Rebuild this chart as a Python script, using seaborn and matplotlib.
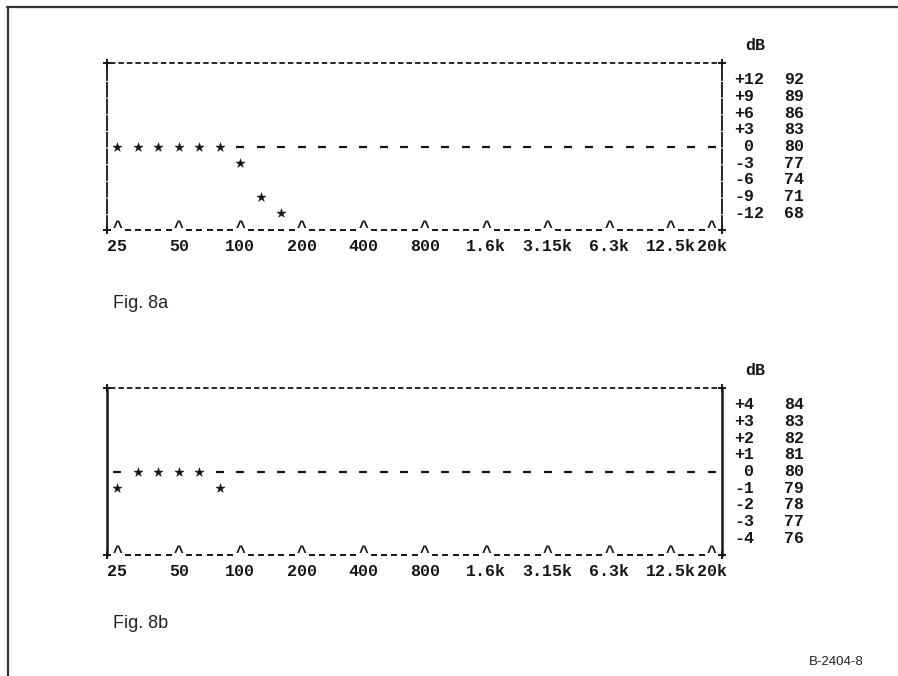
import matplotlib
matplotlib.use("Agg")
import matplotlib.pyplot as plt
from matplotlib.lines import Line2D
import seaborn as sns
import pandas as pd

# One-third-octave band centres, 25 Hz .. 20 kHz
bands = ["25", "31.5", "40", "50", "63", "80", "100", "125", "160", "200",
         "250", "315", "400", "500", "630", "800", "1k", "1.25k", "1.6k", "2k",
         "2.5k", "3.15k", "4k", "5k", "6.3k", "8k", "10k", "12.5k", "16k", "20k"]

# Labelled bands on the frequency axis
freq_labels = ["25", "50", "100", "200", "400", "800", "1.6k", "3.15k",
               "6.3k", "12.5k", "20k"]

# Measured band levels relative to 80 dB (only bands with a plotted point)
fig8a_db = [0, 0, 0, 0, 0, 0, -3, -9, -12]
fig8b_db = [-1, 0, 0, 0, 0, -1]

# Level scales printed at the right of each plot
fig8a_scale_db = [12, 9, 6, 3, 0, -3, -6, -9, -12]
fig8a_scale_spl = [92, 89, 86, 83, 80, 77, 74, 71, 68]
fig8b_scale_db = [4, 3, 2, 1, 0, -1, -2, -3, -4]
fig8b_scale_spl = [84, 83, 82, 81, 80, 79, 78, 77, 76]

sns.set_theme(style="white")
plt.rcParams["lines.scale_dashes"] = False
MONO = {"family": "Liberation Mono", "weight": "bold", "size": 12}
INK = "#161616"

fig = plt.figure(figsize=(8.98, 6.76), dpi=100)
fig.patch.set_facecolor("white")

W, H = 898, 676


def panel_axes(top_px, bottom_px):
    return fig.add_axes([107 / W, (H - bottom_px) / H, 615 / W,
                         (bottom_px - top_px) / H])


def draw_panel(ax, values, step, scale_db, scale_spl, solid_sides):
    n = len(bands)
    ymax = step * 5
    ymin = -ymax
    ax.set_xlim(-0.5, n - 0.5)
    ax.set_ylim(ymin, ymax)
    ax.set_xticks([])
    ax.set_yticks([])
    ax.set_facecolor("white")
    for side in ("top", "bottom"):
        ax.spines[side].set_visible(False)
    for side in ("left", "right"):
        sp = ax.spines[side]
        sp.set_visible(True)
        sp.set_color(INK)
        if solid_sides:
            sp.set_linewidth(1.8)
        else:
            sp.set_linewidth(1.3)
            sp.set_linestyle((0, (10, 2)))

    # measured points
    df = pd.DataFrame({"band": range(len(values)), "db": values})
    sns.scatterplot(data=df, x="band", y="db", marker="*", s=48,
                    color=INK, edgecolor=INK, linewidth=0.3, ax=ax,
                    legend=False, clip_on=False, zorder=5)

    # 0 dB reference row, marked wherever no point sits on it
    ref_x = [i for i in range(n) if i >= len(values) or values[i] != 0]
    ref = pd.DataFrame({"band": ref_x, "db": [0] * len(ref_x)})
    sns.scatterplot(data=ref, x="band", y="db", marker="_", s=26,
                    color=INK, linewidth=1.6, ax=ax, legend=False,
                    clip_on=False)

    # top border
    ax.plot([-0.35, n - 0.65], [ymax, ymax], color=INK, lw=1.3,
            linestyle=(0, (3.9, 2.2)), clip_on=False)

    # bottom border: carets at labelled bands, dashes between
    tick_pos = [bands.index(lbl) for lbl in freq_labels]
    dash_x = [k / 2 for k in range(0, 2 * n - 1) if k / 2 not in tick_pos]
    bot = pd.DataFrame({"x": dash_x, "y": [ymin] * len(dash_x)})
    sns.scatterplot(data=bot, x="x", y="y", marker="_", s=20, color=INK,
                    linewidth=1.4, ax=ax, legend=False, clip_on=False)
    for p in tick_pos:
        ax.text(p, ymin + step * 0.15, "^", ha="center", va="center",
                fontdict=MONO, color=INK)

    # corner crosses
    ax.plot([-0.5, n - 0.5, -0.5, n - 0.5], [ymax, ymax, ymin, ymin],
            linestyle="none", marker="+", ms=6, mew=1.4, color=INK,
            clip_on=False)

    # frequency labels
    for p, lbl in zip(tick_pos, freq_labels):
        ax.text(p, ymin - step, lbl, ha="center", va="center",
                fontdict=MONO, color=INK)

    # level scale
    ax.text(31.1, ymax + step * 1.05, "dB", ha="center", va="center",
            fontdict=MONO, color=INK)
    for d, spl in zip(scale_db, scale_spl):
        s = " 0" if d == 0 else f"{d:+d}"
        ax.text(30.08, d, s, ha="left", va="center", fontdict=MONO, color=INK)
        ax.text(32.54, d, str(spl), ha="left", va="center", fontdict=MONO,
                color=INK)

    ax.set_xlabel("")
    ax.set_ylabel("")


ax_a = panel_axes(63, 230)
draw_panel(ax_a, fig8a_db, 3, fig8a_scale_db, fig8a_scale_spl, False)

ax_b = panel_axes(388, 555)
draw_panel(ax_b, fig8b_db, 1, fig8b_scale_db, fig8b_scale_spl, True)

SANS = {"family": "Liberation Sans", "size": 13}
fig.text(113 / W, 1 - 303 / H, "Fig. 8a", ha="left", va="center",
         fontdict=SANS, color="#222222")
fig.text(113 / W, 1 - 623 / H, "Fig. 8b", ha="left", va="center",
         fontdict=SANS, color="#222222")
fig.text(809 / W, 1 - 662 / H, "B-2404-8", ha="left", va="center",
         fontdict={"family": "Liberation Sans", "size": 9.5},
         color="#222222")

# page border
fig.add_artist(Line2D([7 / W, 1], [1 - 7 / H, 1 - 7 / H],
                      transform=fig.transFigure, color="#333333", lw=1.6))
fig.add_artist(Line2D([8 / W, 8 / W], [0, 1 - 7 / H],
                      transform=fig.transFigure, color="#333333", lw=1.6))

fig.savefig("out.png", dpi=100, facecolor="white")
